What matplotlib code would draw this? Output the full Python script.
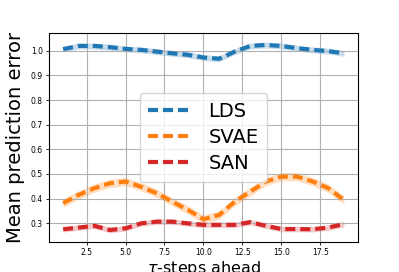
"""Mean prediction error vs tau-steps ahead for LDS / SVAE / SAN."""

import numpy as np
import matplotlib
matplotlib.use('Agg')
import matplotlib.pyplot as plt

steps = list(range(1, 20))

lds_mean = [1.007, 1.020, 1.020, 1.015, 1.008, 1.004, 0.997, 0.990, 0.984, 0.973,
            0.968, 0.997, 1.020, 1.024, 1.020, 1.011, 1.004, 0.999, 0.990]
svae_mean = [0.381, 0.415, 0.442, 0.462, 0.469, 0.448, 0.421, 0.387, 0.354, 0.316,
             0.333, 0.387, 0.428, 0.469, 0.489, 0.489, 0.469, 0.442, 0.394]
san_mean = [0.275, 0.282, 0.289, 0.272, 0.279, 0.299, 0.306, 0.306, 0.299, 0.293,
            0.293, 0.293, 0.304, 0.289, 0.276, 0.276, 0.275, 0.282, 0.296]

lds_std = 0.012
svae_std = 0.017
san_std = 0.011

series = [
    ("LDS", lds_mean, lds_std, '#1f77b4'),
    ("SVAE", svae_mean, svae_std, '#ff7f0e'),
    ("SAN", san_mean, san_std, '#d62728'),
]

fig = plt.figure(figsize=(3.99, 2.72), dpi=100)
ax = fig.add_axes([0.123, 0.110, 0.774, 0.769])

for name, mean, std, color in series:
    mean = np.array(mean)
    ax.fill_between(steps, mean - std, mean + std, color=color, alpha=0.25, linewidth=0)
    ax.plot(steps, mean, color=color, linewidth=3, linestyle=(0, (2.4, 1.2)), label=name)

ax.set_xlim(0.1, 19.9)
ax.set_ylim(0.223, 1.073)
ax.set_xticks([2.5, 5.0, 7.5, 10.0, 12.5, 15.0, 17.5])
ax.set_yticks([0.3, 0.4, 0.5, 0.6, 0.7, 0.8, 0.9, 1.0])
ax.tick_params(labelsize=5.5, length=2.5, width=0.6, pad=2)
ax.grid(True, color='#b0b0b0', linewidth=0.8)
for sp in ax.spines.values():
    sp.set_linewidth(0.8)

ax.set_xlabel(r'$\tau$-steps ahead', fontsize=11.5, labelpad=1.5)
ax.set_ylabel('Mean prediction error', fontsize=14, labelpad=4)

ax.legend(loc='center', fontsize=14, handlelength=2.2, handletextpad=0.9,
          borderpad=0.45, labelspacing=0.35)

fig.savefig('out.png', dpi=100)
